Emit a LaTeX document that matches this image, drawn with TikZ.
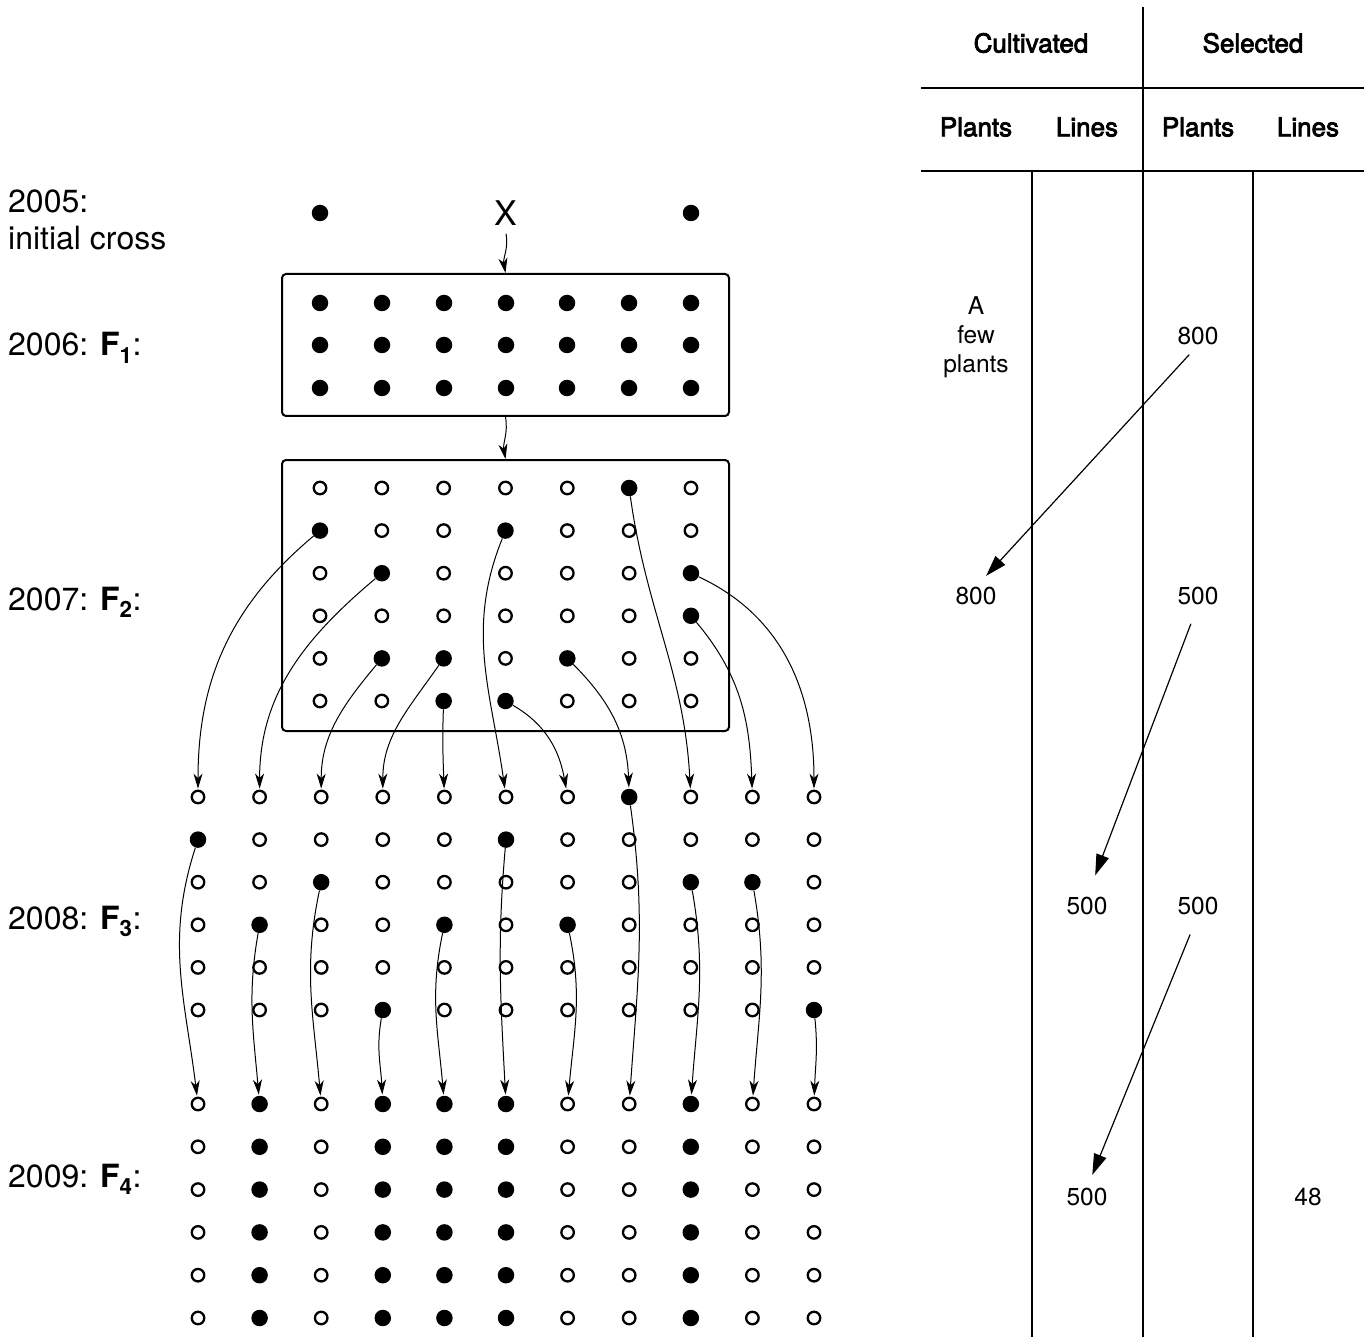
\documentclass[tikz,border=0pt]{standalone}
\usepackage{fontspec}
\setmainfont{TeX Gyre Heros}
\newfontfamily\medfont[FakeBold=3]{TeX Gyre Heros}
\usetikzlibrary{arrows.meta}
\begin{document}
\begin{tikzpicture}[x=1pt,y=-1pt,
 fdot/.style={circle,fill=black,inner sep=0pt,minimum size=16.5pt},
 odot/.style={circle,draw=black,line width=2.3pt,inner sep=0pt,minimum size=12.5pt},
 gbox/.style={draw,line width=2pt,rounded corners=4pt,inner sep=0pt},
 conn/.style={-{Stealth[length=15pt,width=9pt,inset=4.5pt]},line width=1pt},
 tarrow/.style={-{Triangle[length=21pt,width=13pt]},line width=1.2pt},
 tline/.style={line width=2.2pt},
 lbl/.style={anchor=base west,inner sep=0pt,font=\fontsize{32}{38}\selectfont},
 hdr/.style={inner sep=0pt,font=\medfont\fontsize{26}{31}\selectfont},
 cell/.style={inner sep=0pt,font=\fontsize{24.5}{29}\selectfont,align=center},
]
\useasboundingbox (0,0) rectangle (1371,1337);

% boxes
\node[gbox,minimum width=447pt,minimum height=142pt] (F1) at (505.5,345) {};
\node[gbox,minimum width=447pt,minimum height=271pt] (F2) at (505.5,595.5) {};

% parents
\node[fdot] (p1) at (320,213) {};
\node[fdot] (p2) at (691,213) {};
\node[inner sep=0pt,font=\fontsize{34}{40}\selectfont] (X) at (506,213) {X};

% F1
\foreach \x [count=\c] in {320,382,444,506,567,629,691}{
  \foreach \y [count=\r] in {303,345,388}{
    \node[fdot] (a\r-\c) at (\x,\y) {};}}

% F2
\foreach \r/\pat in {1/{0,0,0,0,0,1,0},2/{1,0,0,1,0,0,0},3/{0,1,0,0,0,0,1},4/{0,0,0,0,0,0,1},5/{0,1,1,0,1,0,0},6/{0,0,1,1,0,0,0}}{
  \foreach \v [count=\c] in \pat {
    \pgfmathsetmacro\xx{320+(\c-1)*61.83}
    \pgfmathsetmacro\yy{488+(\r-1)*42.6}
    \ifnum\v=1 \node[fdot] (b\r-\c) at (\xx,\yy) {};\else\node[odot] (b\r-\c) at (\xx,\yy) {};\fi
  }}

% F3
\foreach \c/\fr in {1/2,2/4,3/3,4/6,5/4,6/2,7/4,8/1,9/3,10/3,11/6}{
  \foreach \r in {1,...,6}{
    \pgfmathsetmacro\xx{198+(\c-1)*61.6}
    \pgfmathsetmacro\yy{797+(\r-1)*42.6}
    \ifnum\r=\fr \node[fdot] (c\r-\c) at (\xx,\yy) {};\else\node[odot] (c\r-\c) at (\xx,\yy) {};\fi}}

% F4
\foreach \c/\f in {1/0,2/1,3/0,4/1,5/1,6/1,7/0,8/0,9/1,10/0,11/0}{
  \foreach \r in {1,...,6}{
    \pgfmathsetmacro\xx{198+(\c-1)*61.6}
    \pgfmathsetmacro\yy{1104+(\r-1)*42.8}
    \ifnum\f=1 \node[fdot] (d\r-\c) at (\xx,\yy) {};\else\node[odot] (d\r-\c) at (\xx,\yy) {};\fi}}

% arrows top
\draw[conn] ([yshift=-8pt]X.south) to[out=-80,in=100] (F1.north);
\draw[conn] (F1.south) to[out=-80,in=100] (F2.north);

% F2 -> F3
\foreach \s/\t/\o/\i in {b2-1/c1-1/-140/90, b3-2/c1-2/-140/90, b5-2/c1-3/-130/90, b5-3/c1-4/-125/90, b6-3/c1-5/-92/92, b2-4/c1-6/-112/98, b6-4/c1-7/-30/100, b5-5/c1-8/-45/92, b1-6/c1-9/-82/93, b4-7/c1-10/-50/92, b3-7/c1-11/-25/90}{
  \draw[conn,shorten >=1pt] (\s) to[out=\o,in=\i] (\t);}

% F3 -> F4
\foreach \c/\fr/\o/\i in {1/2/-108/97, 2/4/-100/95, 3/3/-102/95, 4/6/-100/93, 5/4/-102/95, 6/2/-95/93, 7/4/-78/85, 8/1/-82/86, 9/3/-80/86, 10/3/-80/86, 11/6/-84/88}{
  \draw[conn,shorten >=1pt] (c\fr-\c) to[out=\o,in=\i] (d1-\c);}

% table
\draw[tline] (1143,7) -- (1143,1337);
\draw[tline] (921,88) -- (1364,88);
\draw[tline] (921,171) -- (1364,171);
\draw[tline] (1032,171) -- (1032,1337);
\draw[tline] (1253,171) -- (1253,1337);

\node[hdr] (hc) at (1031,43) {Cultivated};
\node[hdr] (hs) at (1253,43) {Selected};
\node[hdr] (hp1) at (976,127) {Plants};
\node[hdr] (hl1) at (1087,127) {Lines};
\node[hdr] (hp2) at (1198,127) {Plants};
\node[hdr] (hl2) at (1308,127) {Lines};

\node[cell] (few) at (976,337) {A\\few\\plants};
\node[cell] (s800) at (1198,336) {800};
\node[cell] (c800) at (976,596) {800};
\node[cell] (s500a) at (1198,596) {500};
\node[cell] (l500a) at (1087,906) {500};
\node[cell] (s500b) at (1198,906) {500};
\node[cell] (l500b) at (1087,1197) {500};
\node[cell] (s48) at (1308,1197) {48};

\draw[tarrow,shorten <=13pt,shorten >=15pt] (s800.south) -- (c800.north);
\draw[tarrow,shorten <=20pt,shorten >=23pt] (s500a.south) -- (l500a.north);
\draw[tarrow,shorten <=21pt,shorten >=14pt] (s500b.south) -- (l500b.north);

% labels
\node[lbl] (y05) at (8,213) {2005:};
\node[lbl] (ic) at (8,250) {initial cross};
\node[lbl] (y06) at (8,356) {2006: \textbf{F\textsubscript{1}}:};
\node[lbl] (y07) at (8,610) {2007: \textbf{F\textsubscript{2}}:};
\node[lbl] (y08) at (8,929) {2008: \textbf{F\textsubscript{3}}:};
\node[lbl] (y09) at (8,1187) {2009: \textbf{F\textsubscript{4}}:};
\end{tikzpicture}
\end{document}
